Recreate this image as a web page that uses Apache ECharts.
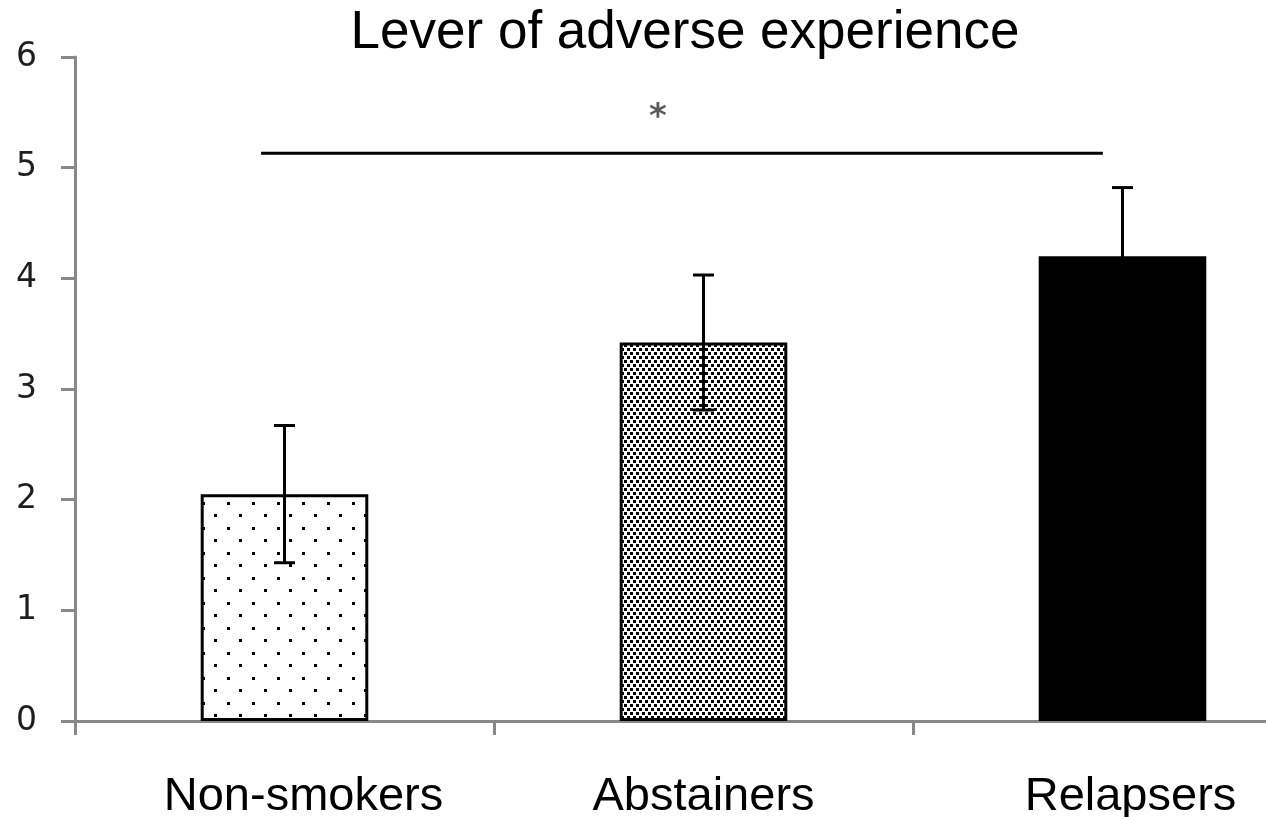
<!DOCTYPE html>
<html>
<head>
<meta charset="utf-8">
<title>Lever of adverse experience</title>
<script src="https://cdn.jsdelivr.net/npm/echarts@6/dist/echarts.min.js"></script>
<style>
  html, body { margin: 0; padding: 0; background: #ffffff; }
  #chart { width: 1266px; height: 817px; }
</style>
</head>
<body>
<div id="chart"></div>
<script>
// Groups, mean scores and error half-widths
const categories = ['Non-smokers', 'Abstainers', 'Relapsers'];
const means = [2.05, 3.42, 4.20];
const errors = [0.62, 0.61, 0.62];
const yTicks = [0, 1, 2, 3, 4, 5, 6];
// Significance bracket: x positions on a 0..3 category scale, and its level
const sigSpan = [0.444, 2.453];
const sigLevel = 5.13;
const sigMark = { x: 1.391, y: 5.45, text: '*' };

// Dotted fills for the first two bars
function dotPattern(w, h, dots, size) {
  const c = document.createElement('canvas');
  c.width = w; c.height = h;
  const ctx = c.getContext('2d');
  ctx.fillStyle = '#ffffff';
  ctx.fillRect(0, 0, w, h);
  ctx.fillStyle = '#000000';
  dots.forEach(d => ctx.fillRect(d[0], d[1], size, size));
  return { image: c, repeat: 'repeat' };
}
const sparseDots = dotPattern(25, 25, [[2, 2], [14, 14]], 3);
const denseDots = dotPattern(6, 8, [[0, 0], [3, 4]], 3);
const fills = [sparseDots, denseDots, '#000000'];

const labelShift = [38, 0, 16];

const chart = echarts.init(document.getElementById('chart'), null, { renderer: 'canvas' });

const option = {
  backgroundColor: '#ffffff',
  animation: false,
  title: {
    text: 'Lever of adverse experience',
    left: 680,
    top: 2,
    textAlign: 'center',
    textStyle: {
      fontFamily: 'Liberation Sans, Arial, sans-serif',
      fontSize: 53,
      fontWeight: 'normal',
      color: '#000000'
    }
  },
  // the third category runs past the right edge of the canvas
  grid: { left: 75, top: 57, width: 1257, height: 664, containLabel: false, outerBoundsMode: 'none' },
  xAxis: [
    {
      type: 'category',
      data: categories.map((c, i) => ({
        value: c,
        textStyle: { padding: [0, 0, 0, labelShift[i]] }
      })),
      axisLine: { lineStyle: { color: '#888888', width: 3 } },
      axisTick: { show: true, length: 14, lineStyle: { color: '#888888', width: 3 } },
      axisLabel: {
        margin: 53,
        fontFamily: 'Liberation Sans, Arial, sans-serif',
        fontSize: 47,
        color: '#000000'
      },
      splitLine: { show: false }
    },
    {
      type: 'value',
      min: 0,
      max: 3,
      show: false
    }
  ],
  yAxis: {
    type: 'value',
    min: yTicks[0],
    max: yTicks[yTicks.length - 1],
    interval: 1,
    axisLine: { show: true, lineStyle: { color: '#888888', width: 3 } },
    axisTick: { show: true, length: 14, lineStyle: { color: '#888888', width: 3 } },
    axisLabel: {
      margin: 38,
      fontFamily: 'DejaVu Sans, Verdana, sans-serif',
      fontSize: 33,
      color: '#1e1e1e'
    },
    splitLine: { show: false }
  },
  series: [
    {
      type: 'bar',
      xAxisIndex: 0,
      barWidth: '40%',
      data: means.map((v, i) => ({
        value: v,
        itemStyle: { color: fills[i], borderColor: '#000000', borderWidth: 3 }
      })),
      z: 2
    },
    {
      type: 'custom',
      xAxisIndex: 0,
      data: means.map((m, i) => [i, m, errors[i]]),
      z: 3,
      renderItem: function (params, api) {
        const idx = api.value(0);
        const m = api.value(1);
        const e = api.value(2);
        const top = api.coord([idx, m + e]);
        const bot = api.coord([idx, m - e]);
        const half = 10.5;
        const style = { stroke: '#000000', lineWidth: 3 };
        return {
          type: 'group',
          children: [
            { type: 'line', shape: { x1: top[0], y1: top[1], x2: bot[0], y2: bot[1] }, style: style },
            { type: 'line', shape: { x1: top[0] - half, y1: top[1], x2: top[0] + half, y2: top[1] }, style: style },
            { type: 'line', shape: { x1: bot[0] - half, y1: bot[1], x2: bot[0] + half, y2: bot[1] }, style: style }
          ]
        };
      }
    },
    {
      type: 'line',
      xAxisIndex: 1,
      data: [[sigSpan[0], sigLevel], [sigSpan[1], sigLevel]],
      symbol: 'none',
      lineStyle: { color: '#000000', width: 3 },
      z: 3
    },
    {
      type: 'scatter',
      xAxisIndex: 1,
      data: [[sigMark.x, sigMark.y]],
      symbolSize: 0,
      label: {
        show: true,
        position: 'inside',
        formatter: sigMark.text,
        fontFamily: 'DejaVu Sans, Verdana, sans-serif',
        fontSize: 34,
        fontWeight: 'bold',
        color: '#333333'
      },
      z: 3
    }
  ]
};

chart.setOption(option);
</script>
</body>
</html>
